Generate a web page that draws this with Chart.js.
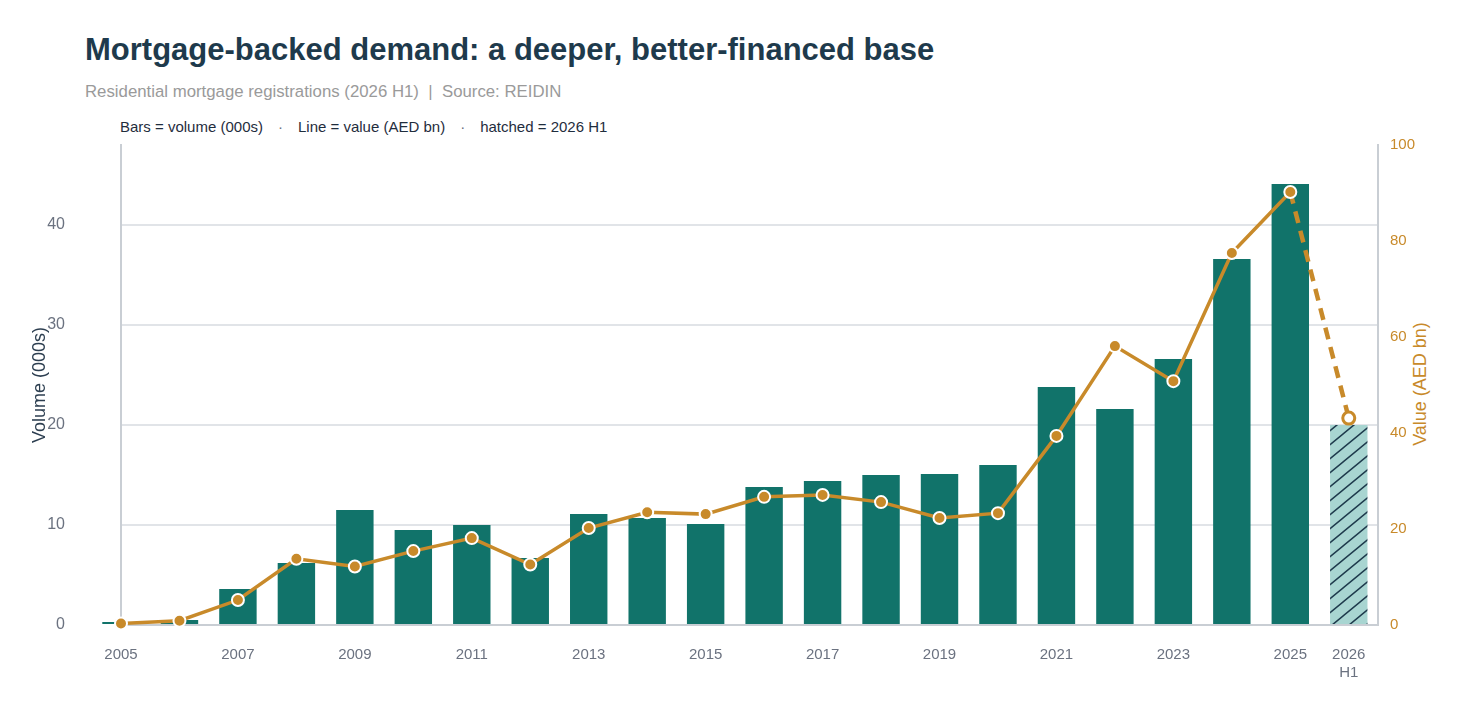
<!DOCTYPE html>
<html lang="en">
<head>
<meta charset="UTF-8">
<title>Mortgage-backed demand</title>
<script src="https://cdn.jsdelivr.net/npm/chart.js"></script>
<style>
    html, body { margin: 0; padding: 0; background: #fff; }
    body { font-family: "Liberation Sans", Arial, sans-serif; }
    .wrap { position: relative; width: 1458px; height: 720px; overflow: hidden; }
    .title { position: absolute; left: 85px; top: 32px; font-size: 31px; font-weight: bold; color: #1e3a4c; white-space: nowrap; }
    .subtitle { position: absolute; left: 85px; top: 82px; font-size: 16.8px; color: #9a9a9a; white-space: nowrap; }
    .note { position: absolute; left: 120px; top: 118px; font-size: 15px; color: #1f2d3d; white-space: nowrap; }
    .note .sep { color: #6b7280; margin: 0 15px; }
    .rtitle { position: absolute; left: 1420px; top: 384px; font-size: 18px; color: #c88a2a; white-space: nowrap;
              transform: translate(-50%, -50%) rotate(-90deg); }
    canvas { position: absolute; left: 0; top: 0; }
</style>
</head>
<body>
<div class="wrap">
    <div class="title">Mortgage-backed demand: a deeper, better-financed base</div>
    <div class="subtitle">Residential mortgage registrations (2026 H1) &nbsp;|&nbsp; Source: REIDIN</div>
    <div class="note">Bars = volume (000s)<span class="sep">·</span>Line = value (AED bn)<span class="sep">·</span>hatched = 2026 H1</div>
    <div class="rtitle">Value (AED bn)</div>
    <canvas id="chart" width="1458" height="720"></canvas>
</div>
<script>
    // data
    const years = ['2005', '2006', '2007', '2008', '2009', '2010', '2011', '2012', '2013', '2014', '2015',
                   '2016', '2017', '2018', '2019', '2020', '2021', '2022', '2023', '2024', '2025', '2026 H1'];
    const volume = [0.3, 0.5, 3.6, 6.2, 11.5, 9.5, 10.0, 6.7, 11.1, 10.7, 10.1,
                    13.8, 14.4, 15.0, 15.1, 16.0, 23.8, 21.6, 26.6, 36.6, 44.1, 20.0];
    const value = [0.3, 0.9, 5.2, 13.8, 12.2, 15.4, 18.1, 12.6, 20.2, 23.5, 23.1,
                   26.7, 27.1, 25.6, 22.3, 23.3, 39.4, 58.1, 50.8, 77.5, 90.2, 43.1];
    const tickYears = [2005, 2007, 2009, 2011, 2013, 2015, 2017, 2019, 2021, 2023, 2025, 2026];

    const TEAL = '#11736a';
    const GOLD = '#c88a2a';
    const last = years.length - 1;

    // x position of each category on the linear axis
    const xPos = years.map((y, i) => 2005 + i);

    // diagonal hatch, tile w x h so lines continue across tiles
    function hatch(bg, fg) {
        const w = 17, h = 14;
        const c = document.createElement('canvas');
        c.width = w; c.height = h;
        const g = c.getContext('2d');
        g.fillStyle = bg;
        g.fillRect(0, 0, w, h);
        g.strokeStyle = fg;
        g.lineWidth = 1.5;
        g.beginPath();
        for (let n = -1; n <= 1; n++) {
            const y0 = h + n * h;
            g.moveTo(-w, y0 + h);
            g.lineTo(2 * w, y0 - 2 * h);
        }
        g.stroke();
        return g.createPattern(c, 'repeat');
    }

    const hatched = hatch('#a8d5d1', '#1e3a4c');
    const barColors = years.map((y, i) => i === last ? hatched : TEAL);
    const pointFill = years.map((y, i) => i === last ? '#ffffff' : GOLD);
    const pointEdge = years.map((y, i) => i === last ? GOLD : '#ffffff');
    const pointEdgeW = years.map((y, i) => i === last ? 3 : 2);

    const fam = '"Liberation Sans", Arial, sans-serif';

    new Chart(document.getElementById('chart'), {
        type: 'bar',
        data: {
            datasets: [{
                type: 'line',
                label: 'Value (AED bn)',
                data: xPos.map((x, i) => ({ x: x, y: value[i] })),
                yAxisID: 'y1',
                borderColor: GOLD,
                borderWidth: 3.5,
                pointRadius: 6,
                pointBackgroundColor: pointFill,
                pointBorderColor: pointEdge,
                pointBorderWidth: pointEdgeW,
                segment: {
                    borderDash: ctx => ctx.p1DataIndex === last ? [12, 8] : undefined,
                    borderWidth: ctx => ctx.p1DataIndex === last ? 4.5 : undefined
                },
                tension: 0,
                clip: false,
                order: 0
            }, {
                label: 'Volume (000s)',
                data: xPos.map((x, i) => ({ x: x, y: volume[i] })),
                yAxisID: 'y',
                backgroundColor: barColors,
                borderWidth: 0,
                categoryPercentage: 0.8,
                barPercentage: 0.8,
                clip: false,
                order: 1
            }]
        },
        options: {
            responsive: false,
            animation: false,
            layout: { padding: { top: 145, left: 0, right: 0, bottom: 0 } },
            plugins: {
                legend: { display: false },
                tooltip: { enabled: false }
            },
            scales: {
                x: {
                    type: 'linear',
                    offset: false,
                    min: 2005,
                    max: 2026.5,
                    afterBuildTicks: s => { s.ticks = tickYears.map(v => ({ value: v })); },
                    afterFit: s => { s.height = 95; },
                    grid: { display: false, drawTicks: false },
                    border: { display: true, color: '#c9ced4', width: 2 },
                    ticks: {
                        color: '#6b7280',
                        font: { family: fam, size: 15 },
                        padding: 21,
                        maxRotation: 0,
                        autoSkip: false,
                        callback: v => v === 2026 ? ['2026', 'H1'] : String(v)
                    }
                },
                y: {
                    position: 'left',
                    min: 0,
                    max: 48,
                    afterFit: s => { s.width = 121; },
                    grid: { color: '#e1e4e8', lineWidth: 2, drawTicks: false },
                    border: { display: true, color: '#c9ced4', width: 2 },
                    ticks: { stepSize: 10, includeBounds: false, color: '#6b7280', font: { family: fam, size: 16 }, padding: 56 },
                    title: {
                        display: true,
                        text: 'Volume (000s)',
                        color: '#2c3e50',
                        font: { family: fam, size: 18 },
                        padding: { top: 29, bottom: 0 }
                    }
                },
                y1: {
                    position: 'right',
                    min: 0,
                    max: 100,
                    afterFit: s => { s.width = 80; },
                    grid: { drawOnChartArea: false, drawTicks: false },
                    border: { display: true, color: '#c9ced4', width: 2 },
                    ticks: { stepSize: 20, color: GOLD, font: { family: fam, size: 15 }, padding: 12 }
                }
            }
        }
    });
</script>
</body>
</html>
